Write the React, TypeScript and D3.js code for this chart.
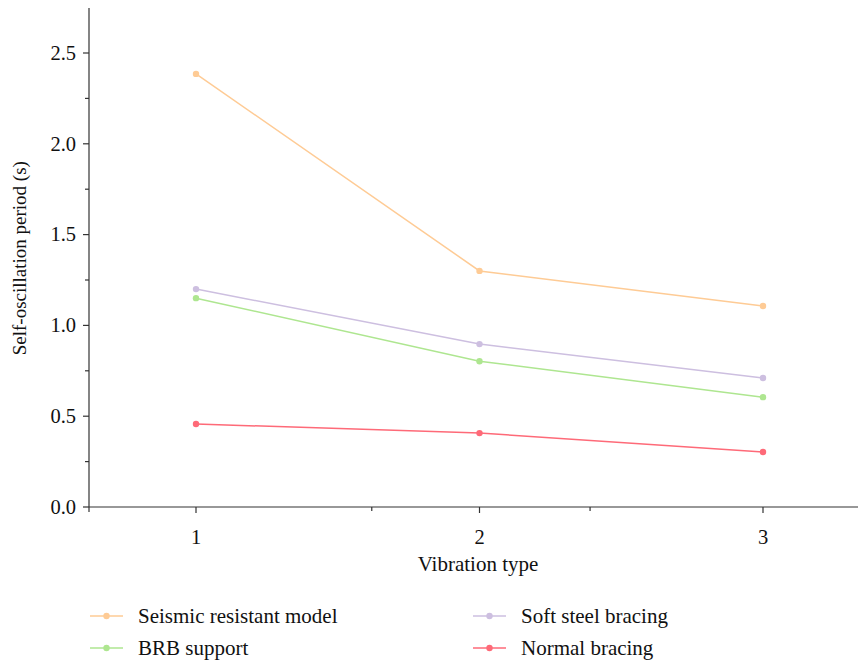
import React from "react";
import * as d3 from "d3";

const categories = [1, 2, 3];
const seismic = [2.385, 1.3, 1.107];
const softSteel = [1.2, 0.897, 0.71];
const brb = [1.15, 0.803, 0.605];
const normal = [0.457, 0.407, 0.303];
const yTicks = [0, 0.5, 1.0, 1.5, 2.0, 2.5];
const yMinor = [0.25, 0.75, 1.25, 1.75, 2.25];
const xMinor = [1.62, 2.39];

const seriesNames = ["Seismic resistant model", "Soft steel bracing", "BRB support", "Normal bracing"];
const seriesData = [seismic, softSteel, brb, normal];
const colors = ["#FECB95", "#CDBFE0", "#AEE690", "#FE6A78"];

const W = 858, H = 662;
const FONT = "Liberation Serif, serif";

export default function App() {
  const x = d3.scaleLinear().domain([1, 3]).range([196, 763]);
  const y = d3.scaleLinear().domain([0, 2.5]).range([507, 53]);
  const left = 89;
  const right = 858;
  const line = d3.line<number>().x((_, i) => x(categories[i])).y((d) => y(d));

  const legend = [
    { i: 0, lx: 90, ly: 616 },
    { i: 1, lx: 473, ly: 616 },
    { i: 2, lx: 90, ly: 648 },
    { i: 3, lx: 473, ly: 648 },
  ];

  return (
    <svg width={W} height={H} style={{ position: "absolute", left: 0, top: 0 }} fontFamily={FONT}>
      <rect width={W} height={H} fill="#fff" />
      {/* y axis */}
      <line x1={left} x2={left} y1={8} y2={512} stroke="#333" strokeWidth={1.2} />
      {yTicks.map((t) => (
        <g key={t}>
          <line x1={left - 6} x2={left} y1={y(t)} y2={y(t)} stroke="#333" strokeWidth={1.2} />
          <text x={left - 13} y={y(t)} dy="0.33em" textAnchor="end" fontSize={20.5} fill="#111">
            {t.toFixed(1)}
          </text>
        </g>
      ))}
      {yMinor.map((t) => (
        <line key={t} x1={left - 4} x2={left} y1={y(t)} y2={y(t)} stroke="#333" strokeWidth={1.2} />
      ))}
      {/* x axis */}
      <line x1={left} x2={right} y1={y(0)} y2={y(0)} stroke="#333" strokeWidth={1.2} />
      {categories.map((c) => (
        <g key={c}>
          <line x1={x(c)} x2={x(c)} y1={y(0)} y2={y(0) + 6} stroke="#333" strokeWidth={1.2} />
          <text x={x(c)} y={537} dy="0.33em" textAnchor="middle" fontSize={20.5} fill="#111">
            {c}
          </text>
        </g>
      ))}
      {xMinor.map((c) => (
        <line key={c} x1={x(c)} x2={x(c)} y1={y(0)} y2={y(0) + 4} stroke="#333" strokeWidth={1.2} />
      ))}
      <text x={478} y={564} dy="0.33em" textAnchor="middle" fontSize={21} fill="#111">
        Vibration type
      </text>
      <text
        transform={`translate(20,${y(1.37)}) rotate(-90)`}
        dy="0.33em"
        textAnchor="middle"
        fontSize={19}
        fill="#111"
      >
        Self-oscillation period (s)
      </text>
      {/* series */}
      {seriesData.map((s, si) => (
        <g key={si}>
          <path d={line(s) || ""} fill="none" stroke={colors[si]} strokeWidth={1.5} />
          {s.map((v, i) => (
            <circle key={i} cx={x(categories[i])} cy={y(v)} r={3.2} fill={colors[si]} />
          ))}
        </g>
      ))}
      {/* legend */}
      {legend.map(({ i, lx, ly }) => (
        <g key={i}>
          <line x1={lx} x2={lx + 33} y1={ly} y2={ly} stroke={colors[i]} strokeWidth={1.5} />
          <circle cx={lx + 16.5} cy={ly} r={3.2} fill={colors[i]} />
          <text x={lx + 48} y={ly} dy="0.33em" fontSize={21} fill="#111">
            {seriesNames[i]}
          </text>
        </g>
      ))}
    </svg>
  );
}
